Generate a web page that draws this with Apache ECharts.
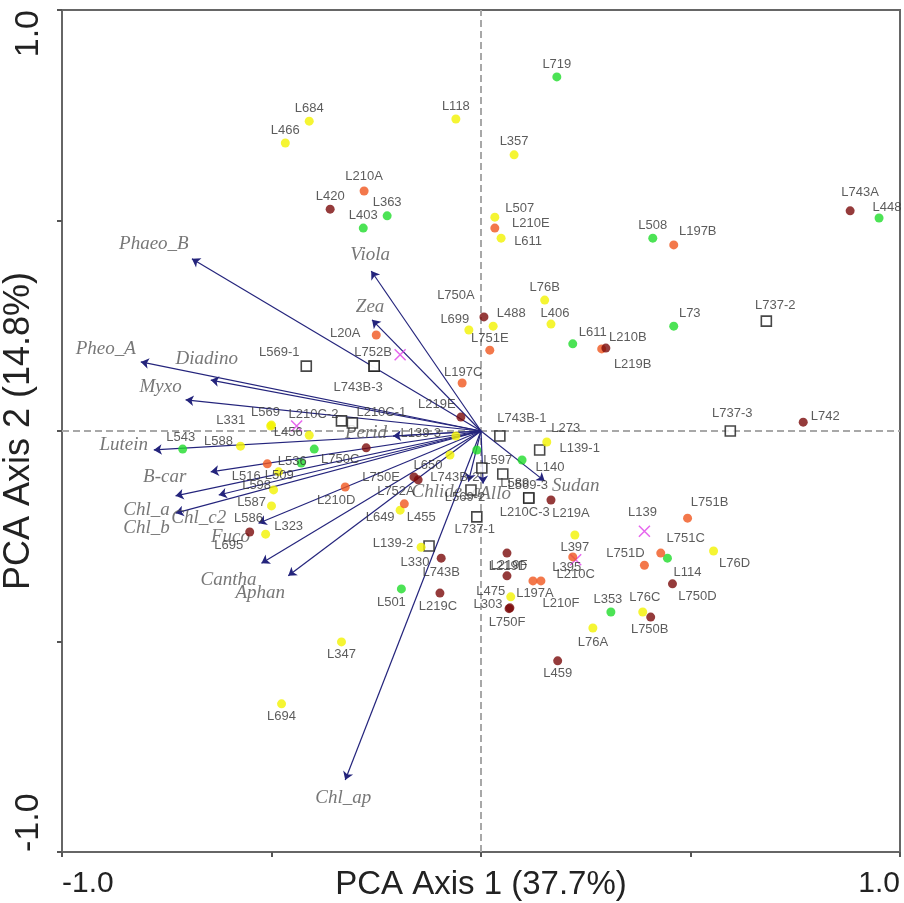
<!DOCTYPE html>
<html>
<head>
<meta charset="utf-8">
<script src="https://cdn.jsdelivr.net/npm/echarts@6/dist/echarts.min.js"></script>
<style>
  html, body { margin: 0; padding: 0; background: #fff; }
  #chart { width: 904px; height: 903px; }
</style>
</head>
<body>
<div id="chart"></div>
<script>
// Sample scores on PCA axes 1 and 2, one list per marker group: [label, axis1, axis2]
const yellowSites = [
  ['L684', -0.410, 0.736], ['L466', -0.467, 0.684], ['L118', -0.060, 0.741],
  ['L357', 0.079, 0.656], ['L507', 0.033, 0.508], ['L611', 0.048, 0.458],
  ['L76B', 0.152, 0.311], ['L406', 0.167, 0.254], ['L699', -0.029, 0.240],
  ['L488', 0.029, 0.249], ['L273', 0.157, -0.026], ['L569', -0.500, 0.014],
  ['L331', -0.502, 0.012], ['L456', -0.410, -0.010], ['L588', -0.574, -0.036],
  ['L598', -0.483, -0.097], ['L587', -0.495, -0.140], ['L586', -0.500, -0.178],
  ['L323', -0.514, -0.245], ['L139-3', -0.060, -0.012], ['L650', -0.074, -0.057],
  ['L649', -0.193, -0.188], ['L330', -0.143, -0.276], ['L397', 0.224, -0.247],
  ['L475', 0.071, -0.394], ['L76D', 0.555, -0.285], ['L76C', 0.386, -0.430],
  ['L76A', 0.267, -0.468], ['L347', -0.333, -0.501], ['L694', -0.476, -0.648]
];
const greenSites = [
  ['L719', 0.181, 0.841], ['L363', -0.224, 0.511], ['L403', -0.281, 0.482],
  ['L508', 0.410, 0.458], ['L448', 0.950, 0.506], ['L73', 0.460, 0.249],
  ['L611', 0.219, 0.207], ['L140', 0.098, -0.069], ['L597', -0.010, -0.045],
  ['L543', -0.712, -0.043], ['L536', -0.398, -0.043], ['L509', -0.429, -0.076],
  ['L501', -0.190, -0.375], ['L114', 0.445, -0.302], ['L353', 0.310, -0.430]
];
const orangeSites = [
  ['L210A', -0.279, 0.570], ['L210E', 0.033, 0.482], ['L197B', 0.460, 0.442],
  ['L20A', -0.250, 0.228], ['L751E', 0.021, 0.192], ['L197C', -0.045, 0.114],
  ['L219B', 0.288, 0.195], ['L516', -0.510, -0.078], ['L210D', -0.324, -0.133],
  ['L455', -0.183, -0.173], ['L395', 0.219, -0.299], ['L197A', 0.124, -0.356],
  ['L210F', 0.143, -0.356], ['L751B', 0.493, -0.207], ['L751D', 0.390, -0.319],
  ['L751C', 0.429, -0.290]
];
const darkRedSites = [
  ['L420', -0.360, 0.527], ['L743A', 0.881, 0.523], ['L750A', 0.007, 0.271],
  ['L210B', 0.298, 0.197], ['L219E', -0.048, 0.033], ['L742', 0.769, 0.021],
  ['L750C', -0.274, -0.040], ['L750E', -0.150, -0.116], ['L752A', -0.160, -0.109],
  ['L695', -0.552, -0.240], ['L743B', -0.095, -0.302], ['L219C', -0.098, -0.385],
  ['L219D', 0.062, -0.290], ['L219F', 0.062, -0.344], ['L303', 0.069, -0.420],
  ['L750F', 0.067, -0.422], ['L219A', 0.167, -0.164], ['L750D', 0.457, -0.363],
  ['L750B', 0.405, -0.442], ['L459', 0.183, -0.546]
];
const squareSites = [
  ['L569-1', -0.417, 0.154], ['L752B', -0.255, 0.154], ['L743B-3', -0.255, 0.154],
  ['L737-2', 0.681, 0.261], ['L737-3', 0.595, 0.000], ['L210C-2', -0.333, 0.024],
  ['L210C-1', -0.307, 0.019], ['L743B-1', 0.045, -0.012], ['L139-1', 0.140, -0.045],
  ['L743B-2', 0.002, -0.088], ['L589', 0.052, -0.102], ['L569-2', -0.024, -0.140],
  ['L569-3', 0.114, -0.159], ['L210C-3', 0.114, -0.159], ['L737-1', -0.010, -0.204],
  ['L139-2', -0.124, -0.273]
];
const crossSites = [
  ['', -0.193, 0.181], ['', -0.440, 0.012], ['L210C', 0.226, -0.306], ['L139', 0.390, -0.238]
];

// Pigment loadings drawn as vectors from the origin
const pigmentNames = ['Phaeo_B', 'Pheo_A', 'Diadino', 'Myxo', 'Lutein', 'B-car', 'Chl_a', 'Chl_b',
  'Chl_c2', 'Fuco', 'Cantha', 'Aphan', 'Chl_ap', 'Viola', 'Zea', 'Perid', 'Sudan', 'Chlide_a', 'Allo'];
const pigmentAxis1 = [-0.690, -0.812, -0.645, -0.705, -0.781, -0.645, -0.729, -0.729,
  -0.626, -0.531, -0.524, -0.460, -0.324, -0.262, -0.260, -0.210, 0.152, -0.030, 0.005];
const pigmentAxis2 = [0.409, 0.164, 0.121, 0.074, -0.045, -0.097, -0.154, -0.195,
  -0.152, -0.219, -0.314, -0.344, -0.829, 0.380, 0.264, -0.012, -0.119, -0.120, -0.125];

// Axis end labels
const axisEndLabels = ['-1.0', '1.0'];

// Label placement (pixel offsets of each label from its marker)
const defaultOffset = [0, -13];
const yellowOffsets = {
  L507: [25, -9], L611: [27, 3], L406: [4, -11], L488: [18, -13], L699: [-14, -11],
  L273: [19, -14], L569: [-6, -13], L331: [-40, -6], L456: [-21, -3], L588: [-22, -5],
  L598: [-22, 14], L587: [-22, 12], L586: [-23, 12], L323: [23, -8], 'L139-3': [-35, -3],
  L650: [-22, 10], L649: [-20, 7], L330: [-6, 15], L397: [0, 12], L475: [-20, -5],
  L76D: [21, 12], L76C: [2, -15], L76A: [0, 14], L347: [0, 13], L694: [0, 13]
};
const greenOffsets = {
  L448: [8, -11], L73: [16, -13], L611: [20, -11], L140: [28, 7], L597: [21, 10],
  L543: [-2, -12], L536: [-22, 12], L509: [-22, 12], L501: [-10, 14], L114: [20, 14], L353: [-3, -13]
};
const orangeOffsets = {
  L210A: [0, -15], L210E: [36, -5], L197B: [24, -13], L20A: [-31, -2], L751E: [0, -12],
  L197C: [1, -11], L219B: [31, 16], L516: [-21, 13], L210D: [-9, 13], L455: [17, 14],
  L395: [-6, 11], L197A: [2, 13], L210F: [20, 23], L751B: [22, -16], L751D: [-19, -12], L751C: [25, -15]
};
const darkRedOffsets = {
  L743A: [10, -18], L750A: [-28, -21], L210B: [22, -11], L219E: [-24, -13], L742: [22, -6],
  L750C: [-26, 12], L750E: [-37, -2], L752A: [-18, 15], L695: [-21, 13], L743B: [0, 14],
  L219C: [-2, 13], L219D: [1, 13], L219F: [2, -10], L303: [-22, -3], L750F: [-2, 14],
  L219A: [20, 13], L750D: [25, 13], L750B: [-1, 12], L459: [0, 13]
};
const squareOffsets = {
  'L569-1': [-27, -14], L752B: [-1, -14], 'L743B-3': [-16, 21], 'L737-2': [9, -16],
  'L737-3': [2, -18], 'L210C-2': [-28, -6], 'L210C-1': [29, -11], 'L743B-1': [22, -18],
  'L139-1': [40, -2], 'L743B-2': [-27, 9], L589: [12, 9], 'L569-2': [-6, 7],
  'L569-3': [-1, -13], 'L210C-3': [-4, 14], 'L737-1': [-2, 13], 'L139-2': [-36, -3]
};
const crossOffsets = { L210C: [0, 15], L139: [-2, -19] };
const pigmentOffsets = {
  Phaeo_B: [-38, -15], Pheo_A: [-35, -13], Diadino: [-4, -21], Myxo: [-25, -13],
  Lutein: [-30, -5], 'B-car': [-46, 5], Chl_a: [-29, 14], Chl_b: [-29, 15], Chl_c2: [-20, 23],
  Fuco: [-28, 14], Cantha: [-33, 17], Aphan: [-28, 17], Chl_ap: [-2, 18], Viola: [-1, -16],
  Zea: [-2, -13], Perid: [-27, -3], Sudan: [31, 5], Chlide_a: [-22, 10], Allo: [12, 10]
};

const labelFont = { fontFamily: 'Liberation Sans', fontSize: 13, color: '#333333' };

function siteSeries(sites, offsets, symbol, size, itemStyle, z) {
  return {
    type: 'scatter',
    symbol: symbol,
    symbolSize: size,
    itemStyle: itemStyle,
    z: z,
    data: sites.map(s => ({
      name: s[0],
      value: [s[1], s[2]],
      label: { offset: offsets[s[0]] || defaultOffset }
    })),
    label: Object.assign({ show: true, position: 'inside', formatter: p => p.name }, labelFont),
    emphasis: { disabled: true }
  };
}

const chart = echarts.init(document.getElementById('chart'), null, { renderer: 'canvas' });

const arrowColor = '#24247c';

chart.setOption({
  animation: false,
  backgroundColor: '#ffffff',
  grid: {
    left: 62, top: 10, width: 838, height: 842, outerBoundsMode: 'none',
    show: true, borderColor: '#666666', borderWidth: 2, backgroundColor: 'transparent'
  },
  xAxis: {
    type: 'value', min: -1, max: 1, interval: 0.5,
    axisLine: { show: false, onZero: false },
    splitLine: { show: false },
    axisTick: { show: true, length: 5, lineStyle: { color: '#555', width: 2 } },
    axisLabel: {
      formatter: v => (v === -1 ? axisEndLabels[0] : v === 1 ? axisEndLabels[1] : ''),
      fontFamily: 'Liberation Sans', fontSize: 30, color: '#222', margin: 17,
      alignMinLabel: 'left', alignMaxLabel: 'right'
    },
    name: 'PCA Axis 1 (37.7%)', nameLocation: 'middle', nameGap: 16, nameMoveOverlap: false,
    nameTextStyle: { fontFamily: 'Liberation Sans', fontSize: 33, color: '#222', verticalAlign: 'top' }
  },
  yAxis: {
    type: 'value', min: -1, max: 1, interval: 0.5,
    axisLine: { show: false, onZero: false },
    splitLine: { show: false },
    axisTick: { show: true, length: 5, lineStyle: { color: '#555', width: 2 } },
    axisLabel: {
      formatter: v => (v === -1 ? axisEndLabels[0] : v === 1 ? axisEndLabels[1] : ''),
      fontFamily: 'Liberation Sans', fontSize: 34, color: '#222', margin: 16, rotate: 90,
      alignMinLabel: 'left', alignMaxLabel: 'right'
    },
    name: 'PCA Axis 2 (14.8%)', nameLocation: 'middle', nameGap: 25, nameMoveOverlap: false,
    nameTextStyle: { fontFamily: 'Liberation Sans', fontSize: 36, color: '#222' }
  },
  series: [
    {
      type: 'lines',
      coordinateSystem: 'cartesian2d',
      z: 2,
      symbol: ['none', 'arrow'],
      symbolSize: 8,
      lineStyle: { color: arrowColor, width: 1.2, opacity: 1 },
      data: pigmentNames.map((n, i) => ({ coords: [[0, 0], [pigmentAxis1[i], pigmentAxis2[i]]] })),
      markLine: {
        silent: true, symbol: 'none', z: 1,
        label: { show: false },
        lineStyle: { type: [7, 4], color: '#a8a8a8', width: 2 },
        data: [{ xAxis: 0 }, { yAxis: 0 }]
      }
    },
    {
      type: 'scatter',
      z: 3,
      symbolSize: 1,
      itemStyle: { color: 'rgba(0,0,0,0)' },
      data: pigmentNames.map((n, i) => ({
        name: n, value: [pigmentAxis1[i], pigmentAxis2[i]],
        label: { offset: pigmentOffsets[n] || [0, -14] }
      })),
      label: {
        show: true, position: 'inside', formatter: p => p.name,
        fontFamily: 'Liberation Serif', fontStyle: 'italic', fontSize: 19, color: '#555555'
      },
      emphasis: { disabled: true }
    },
    siteSeries(squareSites, squareOffsets, 'rect', 10, { color: '#ffffff', borderColor: '#1a1a1a', borderWidth: 1.6 }, 4),
    siteSeries(crossSites, crossOffsets, 'path://M0,0L10,10M10,0L0,10', 11, { color: 'rgba(0,0,0,0)', borderColor: '#e040e8', borderWidth: 1.5 }, 4),
    siteSeries(yellowSites, yellowOffsets, 'circle', 9, { color: '#f2f200' }, 5),
    siteSeries(greenSites, greenOffsets, 'circle', 9, { color: '#1fdc2a' }, 5),
    siteSeries(orangeSites, orangeOffsets, 'circle', 9, { color: '#f0561e' }, 5),
    siteSeries(darkRedSites, darkRedOffsets, 'circle', 9, { color: '#7a0a0a' }, 5)
  ]
});
</script>
</body>
</html>
